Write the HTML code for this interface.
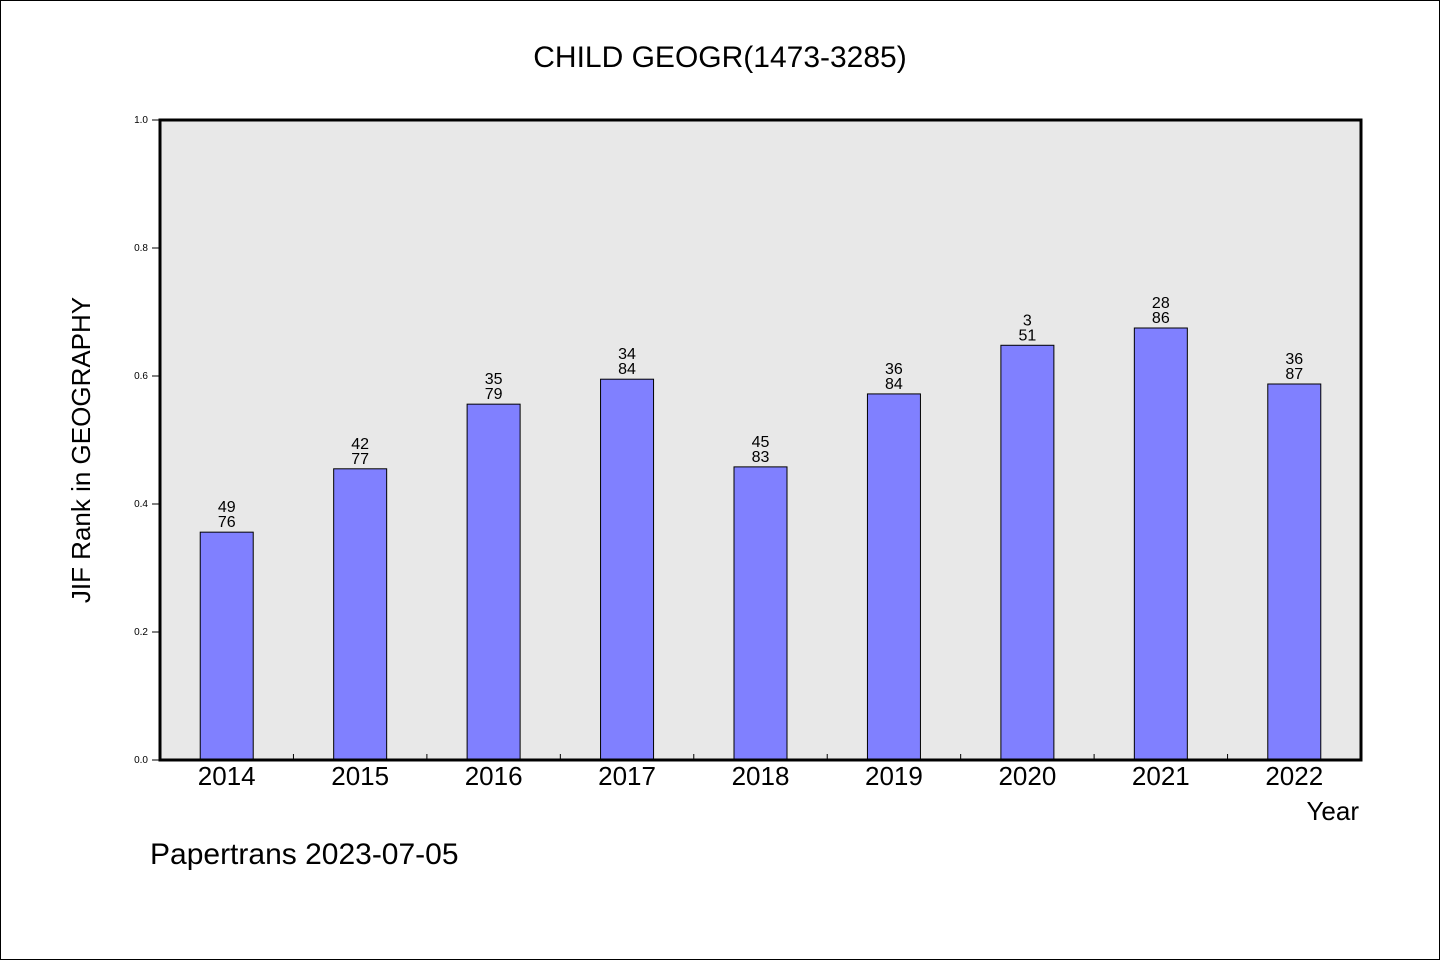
<!DOCTYPE html>
<html><head><meta charset="utf-8"><style>
body{margin:0;background:#fff;}
svg{display:block;font-family:"WenQuanYi Zen Hei","Liberation Sans",sans-serif;}
</style></head><body>
<svg id="chart" width="1440" height="960" viewBox="0 0 1440 960">
<rect x="0.5" y="0.5" width="1439" height="959" fill="#fff" stroke="#000"/>
<text x="720" y="67" font-size="30" text-anchor="middle">CHILD GEOGR(1473-3285)</text>
<rect x="160" y="120" width="1201" height="640" fill="#e8e8e8"/>
<g id="yaxis"></g>
<g id="xaxis"></g>
<g id="bars"></g>
<rect x="160" y="120" width="1201" height="640" fill="none" stroke="#000" stroke-width="3"/>
<text transform="translate(90,450) rotate(-90)" font-size="26" text-anchor="middle">JIF Rank in GEOGRAPHY</text>
<text x="1359" y="820" font-size="26" text-anchor="end">Year</text>
<text x="150" y="864" font-size="30">Papertrans 2023-07-05</text>
</svg>
<script>
const years=["2014","2015","2016","2017","2018","2019","2020","2021","2022"];
const values=[0.356,0.455,0.556,0.595,0.458,0.572,0.648,0.675,0.5875];
const ranks=["49","42","35","34","45","36","3","28","36"];
const totals=["76","77","79","84","83","84","51","86","87"];
const yTicks=[0,0.2,0.4,0.6,0.8,1.0];
const NS="http://www.w3.org/2000/svg";
const x0=160,x1=1361,yTop=120,yBot=760;
const band=(x1-x0)/years.length;
const xs=i=>x0+band*(i+0.5);
const ys=v=>yBot-(yBot-yTop)*v;
function mk(t,a,p){const e=document.createElementNS(NS,t);for(const k in a)e.setAttribute(k,a[k]);p.appendChild(e);return e;}
const ya=document.getElementById('yaxis');
yTicks.forEach(v=>{
 const l=mk('line',{x1:x0-8,x2:x0,y1:ys(v),y2:ys(v),stroke:'#000'},ya);
 
 
 const t=mk('text',{x:x0-8-4,y:ys(v)+3,'font-size':10,'text-anchor':'end'},ya);
 t.textContent=v.toFixed(1);
 
 
});
const xa=document.getElementById('xaxis');
const bg=document.getElementById('bars');
years.forEach((y,i)=>{
 if(i>0){const l=mk('line',{x1:x0+band*i,x2:x0+band*i,y1:yBot,y2:yBot-6,stroke:'#000'},xa);
 
 }
 const t=mk('text',{x:xs(i),y:yBot+25,'font-size':26,'text-anchor':'middle'},xa);
 t.textContent=y;
 
 
 const bw=53;
 const r=mk('rect',{x:xs(i)-bw/2,y:ys(values[i]),width:bw,height:yBot-ys(values[i]),fill:'#8080ff',stroke:'#000','stroke-width':1},bg);
 
 
 const a=mk('text',{x:xs(i),y:ys(values[i])-20,'font-size':16,'text-anchor':'middle'},bg);
 a.textContent=ranks[i];
 
 
 const b=mk('text',{x:xs(i),y:ys(values[i])-5,'font-size':16,'text-anchor':'middle'},bg);
 b.textContent=totals[i];
 
 
});
</script>
</body></html>
